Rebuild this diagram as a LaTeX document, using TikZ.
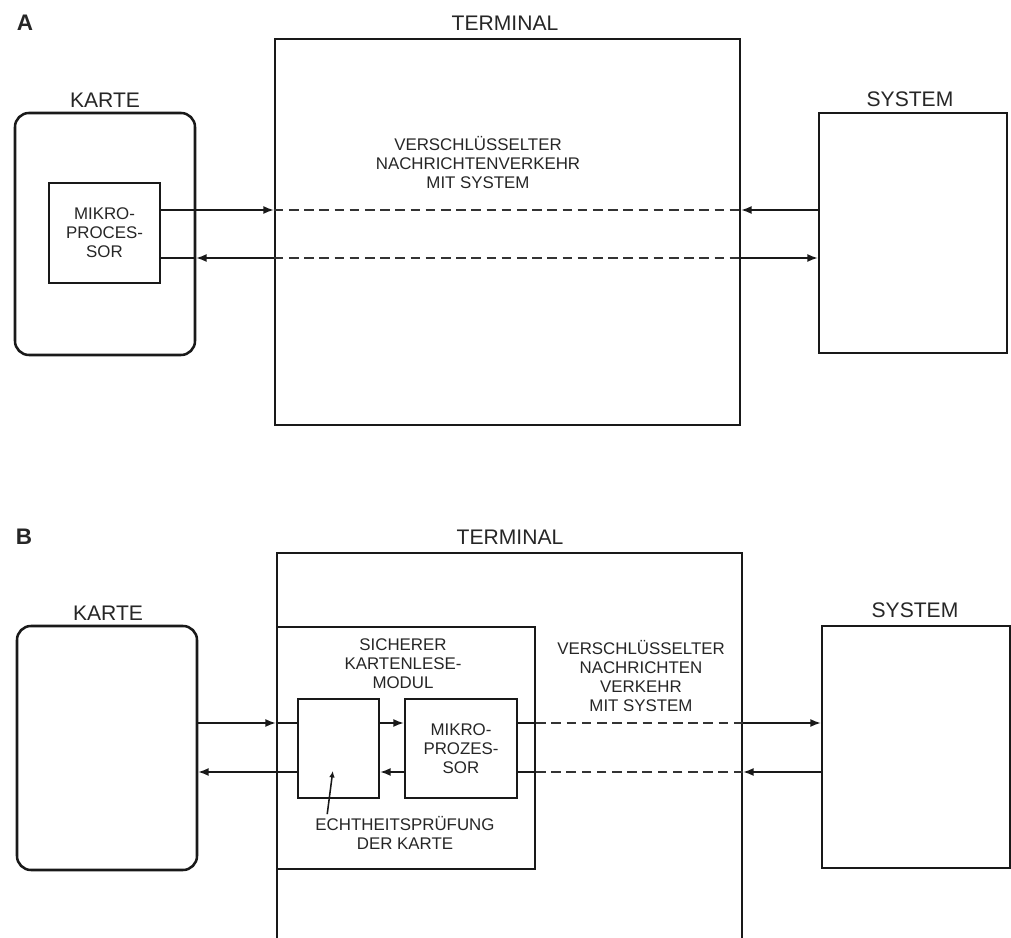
\documentclass[tikz,border=0pt]{standalone}
\usepackage{fontspec}
\setmainfont{Liberation Sans}
\usepackage{tikz}
\usetikzlibrary{arrows.meta,calc}

\begin{document}
\begin{tikzpicture}[>={Latex[length=2.6mm,width=2mm]},
box/.style={draw=black!90,line width=1.8pt,inner sep=0pt},
title/.style={inner sep=0pt,text=black!85,font=\fontsize{15}{17}\selectfont},
txt/.style={inner sep=0pt,align=center,text=black!85,font=\fontsize{12}{13.5}\selectfont},
conn/.style={line width=1.1pt,draw=black!90},
msg/.style={line width=1.1pt,draw=black!80,dash pattern=on 2.4mm off 1.4mm}]
\useasboundingbox (0,0) rectangle (25.275,-23.45);
\clip (0,0) rectangle (25.275,-23.45);
\node[title,font=\fontsize{16}{18}\selectfont\bfseries] (partA) at (0.625,-0.575) {A};
\node[title] (termAlbl) at (12.625,-0.575) {TERMINAL};
\node[box,minimum width=11.625cm,minimum height=9.65cm] (termA) at (12.6875,-5.8) {};
\node[title] (karteAlbl) at (2.625,-2.5) {KARTE};
\node[box,rounded corners=0.35cm,minimum width=4.5cm,minimum height=6.05cm] (karteA) at (2.625,-5.85) {};
\node[box,txt,minimum width=2.775cm,minimum height=2.5cm] (mikroA) at (2.6125,-5.825) {MIKRO-\\PROCES-\\SOR};
\node[title] (sysAlbl) at (22.75,-2.475) {SYSTEM};
\node[box,minimum width=4.7cm,minimum height=6cm] (sysA) at (22.825,-5.825) {};
\node[txt] (msgA) at (11.95,-4.075) {VERSCHLÜSSELTER\\NACHRICHTENVERKEHR\\MIT SYSTEM};
\coordinate (upA) at (0,-5.25);
\coordinate (loA) at (0,-6.45);
\draw[conn,->](mikroA.east|-upA)--(termA.west|-upA);
\draw[msg](termA.west|-upA)--(termA.east|-upA);
\draw[conn,->](sysA.west|-upA)--(termA.east|-upA);
\draw[conn,->](termA.west|-loA)--(karteA.east|-loA);
\draw[conn](karteA.east|-loA)--(mikroA.east|-loA);
\draw[msg](termA.west|-loA)--(termA.east|-loA);
\draw[conn,->](termA.east|-loA)--(sysA.west|-loA);
\node[title,font=\fontsize{16}{18}\selectfont\bfseries] (partB) at (0.6,-13.425) {B};
\node[title] (termBlbl) at (12.75,-13.425) {TERMINAL};
\node[box,minimum width=11.625cm,minimum height=10.175cm] (termB) at (12.7375,-18.9125) {};
\node[title] (karteBlbl) at (2.7,-15.325) {KARTE};
\node[box,rounded corners=0.35cm,minimum width=4.5cm,minimum height=6.1cm] (karteB) at (2.675,-18.7) {};
\node[box,minimum width=6.45cm,minimum height=6.05cm] (modul) at (10.15,-18.7) {};
\node[txt] (modulLbl) at (10.075,-16.6) {SICHERER\\KARTENLESE-\\MODUL};
\node[box,minimum width=2.025cm,minimum height=2.475cm] (chk) at (8.4625,-18.7125) {};
\node[box,txt,minimum width=2.8cm,minimum height=2.475cm] (mikroB) at (11.525,-18.7125) {MIKRO-\\PROZES-\\SOR};
\node[txt] (echt) at (10.125,-20.825) {ECHTHEITSPRÜFUNG\\DER KARTE};
\node[title] (sysBlbl) at (22.875,-15.25) {SYSTEM};
\node[box,minimum width=4.7cm,minimum height=6.05cm] (sysB) at (22.9,-18.675) {};
\node[txt] (msgB) at (16.025,-16.9) {VERSCHLÜSSELTER\\NACHRICHTEN\\VERKEHR\\MIT SYSTEM};
\coordinate (upB) at (0,-18.075);
\coordinate (loB) at (0,-19.3);
\coordinate (chkpt) at (8.32,-19.275);
\draw[conn,->](karteB.east|-upB)--(termB.west|-upB);
\draw[conn](termB.west|-upB)--(chk.west|-upB);
\draw[conn,->](chk.east|-upB)--(mikroB.west|-upB);
\draw[conn](mikroB.east|-upB)--(modul.east|-upB);
\draw[msg](modul.east|-upB)--(termB.east|-upB);
\draw[conn,->](termB.east|-upB)--(sysB.west|-upB);
\draw[conn,->](sysB.west|-loB)--(termB.east|-loB);
\draw[msg](termB.east|-loB)--(modul.east|-loB);
\draw[conn](modul.east|-loB)--(mikroB.east|-loB);
\draw[conn,->](mikroB.west|-loB)--(chk.east|-loB);
\draw[conn,->](chk.west|-loB)--(karteB.east|-loB);
\draw[conn,-{Latex[length=1.6mm,width=1.4mm]}]($(echt.north west)+(0.3,0.05)$)--(chkpt);
\end{tikzpicture}
\end{document}
